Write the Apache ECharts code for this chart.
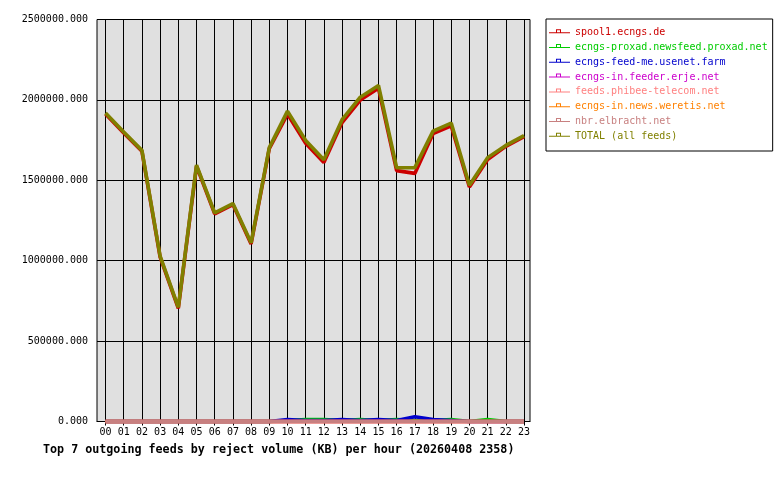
<!DOCTYPE html>
<html>
<head>
<meta charset="utf-8">
<script src="https://cdn.jsdelivr.net/npm/echarts@6/dist/echarts.min.js"></script>
<style>
  html, body { margin: 0; padding: 0; background: #fff; }
  #chart { width: 780px; height: 480px; }
</style>
</head>
<body>
<div id="chart"></div>
<script>
  // hours of the day
  const hours = [0, 1, 2, 3, 4, 5, 6, 7, 8, 9, 10, 11, 12, 13, 14, 15, 16, 17, 18, 19, 20, 21, 22, 23]
  const hourLabels = ['00', '01', '02', '03', '04', '05', '06', '07', '08', '09', '10', '11',
    '12', '13', '14', '15', '16', '17', '18', '19', '20', '21', '22', '23']
  const yTicks = [0, 500000, 1000000, 1500000, 2000000, 2500000]

  const feedNames = [
    'spool1.ecngs.de',
    'ecngs-proxad.newsfeed.proxad.net',
    'ecngs-feed-me.usenet.farm',
    'ecngs-in.feeder.erje.net',
    'feeds.phibee-telecom.net',
    'ecngs-in.news.weretis.net',
    'nbr.elbracht.net',
    'TOTAL (all feeds)'
  ]
  const feedColors = ['#cc0000', '#00cc00', '#0000cc', '#cc00cc', '#ff8080', '#ff8000', '#c88080', '#808000']

  // reject volume (KB) per hour
  const spool1 = [1912000, 1794000, 1680000, 1022000, 704000, 1588000, 1291000, 1349000, 1104000, 1697000,
    1912000, 1730000, 1610000, 1859000, 1999000, 2072000, 1560000, 1543000, 1790000, 1838000,
    1458000, 1629000, 1711000, 1772000]
  const proxad = [0, 0, 0, 0, 0, 0, 0, 0, 0, 0,
    6000, 12000, 12000, 6000, 12000, 6000, 12000, 6000, 6000, 12000,
    0, 12000, 0, 0]
  const feedMe = [0, 0, 0, 0, 0, 0, 0, 0, 0, 0,
    12000, 6000, 6000, 12000, 6000, 12000, 6000, 30000, 12000, 6000,
    0, 0, 0, 0]
  const erje = [0, 0, 0, 0, 0, 0, 0, 0, 0, 0, 0, 0, 0, 0, 0, 0, 0, 0, 0, 0, 0, 0, 0, 0]
  const phibee = [0, 0, 0, 0, 0, 0, 0, 0, 0, 0, 0, 0, 0, 0, 0, 0, 0, 0, 0, 0, 0, 0, 0, 0]
  const weretis = [0, 0, 0, 0, 0, 0, 0, 0, 0, 0, 0, 0, 0, 0, 0, 0, 0, 0, 0, 0, 0, 0, 0, 0]
  const elbracht = [0, 0, 0, 0, 0, 0, 0, 0, 0, 0, 0, 0, 0, 0, 0, 0, 0, 0, 0, 0, 0, 0, 0, 0]
  const total = [1918000, 1800000, 1686000, 1028000, 710000, 1595000, 1297000, 1355000, 1111000, 1703000,
    1930000, 1748000, 1628000, 1877000, 2017000, 2090000, 1578000, 1579000, 1806000, 1856000,
    1469000, 1641000, 1717000, 1778000]

  const feedValues = [spool1, proxad, feedMe, erje, phibee, weretis, elbracht, total]

  const mono = 'DejaVu Sans Mono'
  // legend icon: short line with a small hollow square on top
  const legendIcon = 'path://M0,0L0.01,0L0,0Z M0,10L0.01,10L0,10Z M0,4.5H21V5.5H0Z M7,1.5H12V5H7Z M8,2.5V4.5H11V2.5Z'

  const chart = echarts.init(document.getElementById('chart'))

  const option = {
    animation: false,
    title: {
      text: 'Top 7 outgoing feeds by reject volume (KB) per hour (20260408 2358)',
      left: 43,
      top: 444,
      padding: 0,
      textStyle: { fontFamily: mono, fontWeight: 'bold', fontSize: 11.7, color: '#000' }
    },
    legend: {
      left: 546,
      top: 19,
      orient: 'vertical',
      backgroundColor: '#fff',
      borderColor: '#000',
      borderWidth: 1,
      padding: [8.7, 5, 9.7, 3],
      itemWidth: 21,
      itemHeight: 10,
      itemGap: 4.8,
      icon: legendIcon,
      textStyle: { fontFamily: mono, fontSize: 10, lineHeight: 10 },
      data: feedNames.map((name, i) => {
        return { name: name, textStyle: { color: feedColors[i] } }
      })
    },
    grid: {
      left: 97,
      right: 250,
      top: 19.5,
      bottom: 58.5,
      show: true,
      backgroundColor: '#e0e0e0',
      borderColor: '#000',
      borderWidth: 1
    },
    xAxis: {
      type: 'value',
      min: -0.47,
      max: 23.33,
      axisLine: { show: true, lineStyle: { color: '#000', width: 1 } },
      axisTick: { show: true, length: 4, customValues: hours, lineStyle: { color: '#000' } },
      axisLabel: {
        customValues: hours,
        margin: 6,
        fontFamily: mono,
        fontSize: 10,
        color: '#000',
        formatter: v => hourLabels[v]
      },
      splitLine: { show: true, lineStyle: { color: '#000', width: 1 } }
    },
    yAxis: {
      type: 'value',
      min: yTicks[0],
      max: yTicks[yTicks.length - 1],
      interval: 500000,
      axisLine: { show: true, lineStyle: { color: '#000', width: 1 } },
      axisTick: { show: true, length: 5, lineStyle: { color: '#000' } },
      axisLabel: {
        margin: 9,
        fontFamily: mono,
        fontSize: 10,
        color: '#000',
        formatter: v => v.toFixed(3)
      },
      splitLine: { show: true, lineStyle: { color: '#000', width: 1 } }
    },
    series: feedNames.map((name, i) => {
      return {
        name: name,
        type: 'line',
        showSymbol: false,
        symbol: 'none',
        color: feedColors[i],
        lineStyle: { width: 3.6, color: feedColors[i] },
        clip: false,
        z: 3,
        data: hours.map((h, j) => [h, feedValues[i][j]])
      }
    })
  }

  chart.setOption(option)
</script>
</body>
</html>
